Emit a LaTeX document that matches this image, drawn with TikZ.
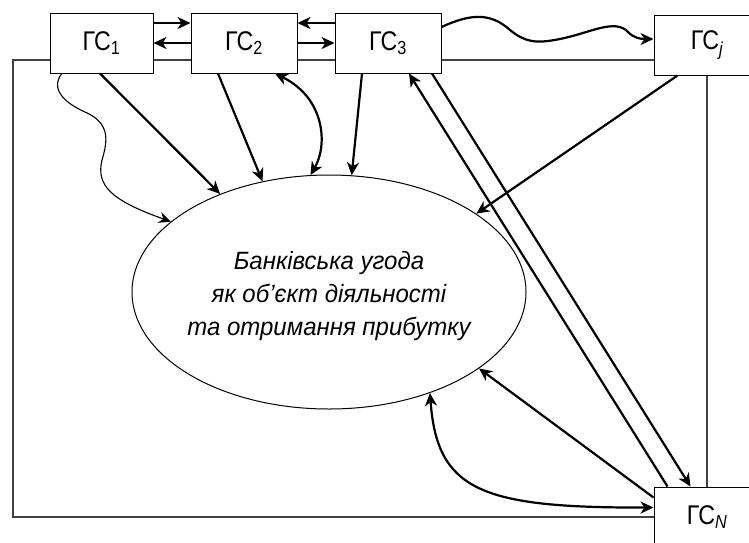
\documentclass[tikz,border=0pt]{standalone}
\usepackage{fontspec}
\setmainfont{Liberation Sans}
\usetikzlibrary{arrows.meta,calc,shapes.geometric,backgrounds}
\newcommand{\gslabel}[1]{\scalebox{0.86}[1]{ГС\textsubscript{#1}}}
\begin{document}
\begin{tikzpicture}[x=1pt,y=-1pt,
  gbox/.style={draw, line width=1pt, fill=white, minimum width=106pt, minimum height=60pt, inner sep=0pt, font=\fontsize{27}{30}\selectfont},
  frameline/.style={line width=1.4pt, draw=black!75},
  arr/.style={line width=2.2pt, -{Stealth[length=13pt,width=12pt,inset=4pt]}},
  darr/.style={line width=2.2pt, {Stealth[length=13pt,width=12pt,inset=4pt]}-{Stealth[length=13pt,width=12pt,inset=4pt]}},
  tharr/.style={line width=1.1pt, -{Stealth[length=12pt,width=11pt,inset=4pt]}}
]
\useasboundingbox (0,0) rectangle (749,542);
\clip (0,0) rectangle (749,542);

\node[gbox, minimum width=103pt] (g1) at (101.5,43) {\gslabel{1}};
\node[gbox] (g2) at (244,43) {\gslabel{2}};
\node[gbox] (g3) at (388,43) {\gslabel{3}};
\node[gbox] (gj) at (707,45) {\gslabel{\itshape j}};
\node[gbox] (gN) at (707,517) {\gslabel{\itshape N}};
\node[ellipse, draw, line width=1pt, minimum width=394pt, minimum height=234pt, inner sep=0pt] (el) at (329,292) {};
\node[font=\itshape\fontsize{25}{33}\selectfont, align=center] (t) at (329,296) {\scalebox{0.96}[1]{Банківська угода}\\\scalebox{0.96}[1]{як об’єкт діяльності}\\\scalebox{0.96}[1]{та отримання прибутку}};

\begin{pgfonlayer}{background}
\draw[frameline] ([yshift=-15pt]gj.west) -- (13,60) -- (13,517) -- (gN.west);
\draw[frameline] (gj.south) -- (gN.north);
\end{pgfonlayer}

\draw[arr] ([yshift=20pt]g1.east) -- ([yshift=20pt]g2.west);
\draw[arr] (g2.west) -- (g1.east);
\draw[arr] ([yshift=20pt]g3.west) -- ([yshift=20pt]g2.east);
\draw[arr] (g2.east) -- (g3.west);

\draw[arr] ([yshift=16pt]g3.east) .. controls (470,14) and (490,12) .. (510,30) .. controls (525,42) and (535,44) .. (560,39) .. controls (590,33) and (615,18) .. (628,32) .. controls (634,38) and (640,39) .. ([yshift=6pt]gj.west);

\draw[tharr] ([xshift=-39.5pt]g1.south) .. controls (52,85) and (58,100) .. (85,112) .. controls (110,123) and (108,140) .. (102,160) .. controls (96,185) and (110,200) .. (el.156.5);

\draw[arr] ([xshift=-1.5pt]g1.south) -- (el.138.5);
\draw[arr] ([xshift=-26pt]g2.south) -- (el.121.3);
\draw[darr] ([xshift=31pt]g2.south) .. controls (325,98) and (328,145) .. (el.99.2);
\draw[arr] ([xshift=-26pt]g3.south) -- (el.79);
\draw[arr] ([xshift=14pt]gN.north west) -- ([xshift=21pt]g3.south);
\draw[arr] ([xshift=44pt]g3.south) -- ([xshift=37pt]gN.north west);
\draw[arr] ([xshift=24pt]gj.south west) -- (el.28.9);
\draw[arr] ([yshift=-11pt]gN.north west) -- (el.-27.8);
\draw[darr] (el.-45.6) .. controls (437,490) and (480,508) .. ([yshift=-21pt]gN.north west);
\end{tikzpicture}
\end{document}
